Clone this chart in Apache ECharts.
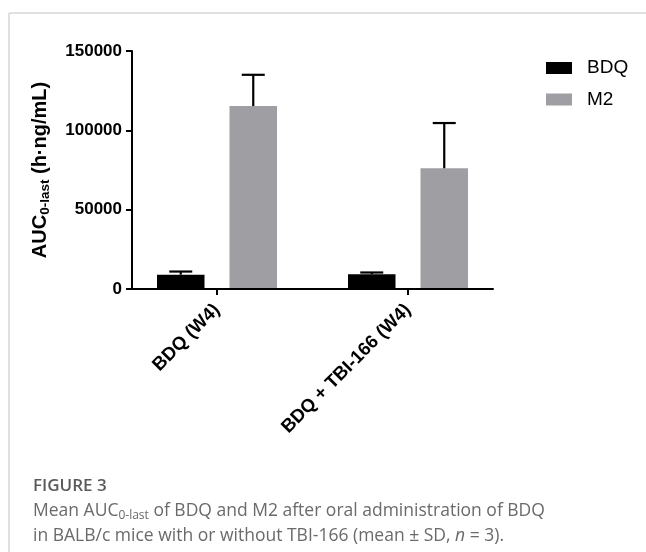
<!DOCTYPE html>
<html>
<head>
<meta charset="utf-8">
<script src="https://cdn.jsdelivr.net/npm/echarts@6/dist/echarts.min.js"></script>
<style>
  html, body { margin: 0; padding: 0; background: #fff; }
  #chart { width: 646px; height: 552px; }
</style>
</head>
<body>
<div id="chart"></div>
<script>
// ---- data ----
const categories = ['BDQ (W4)', 'BDQ + TBI-166 (W4)'];
const seriesNames = ['BDQ', 'M2'];
const bdqMean = [9000, 9300];
const bdqSD = [2000, 1100];
const m2Mean = [115300, 76100];
const m2SD = [19700, 28500];
const yMin = 0, yMax = 150000, yInterval = 50000;

// ---- styles ----
const FONT = 'Liberation Sans, Arial, sans-serif';
const CAP_FONT = 'Open Sans, Lato, sans-serif';
const BAR_W = 47.5;
const BAR_GAP_PX = 25;
const CAP_W = 23;
const colors = ['#000000', '#9f9ea3'];

function errRender(sign) {
  return function (params, api) {
    const c = api.value(0), m = api.value(1), sd = api.value(2);
    const p0 = api.coord([c, m]);
    const p1 = api.coord([c, m + sd]);
    const x = p0[0] + sign * (BAR_W + BAR_GAP_PX) / 2;
    const st = { stroke: '#000', lineWidth: 2.2 };
    return {
      type: 'group',
      children: [
        { type: 'line', shape: { x1: x, y1: p0[1], x2: x, y2: p1[1] }, style: st },
        { type: 'line', shape: { x1: x - CAP_W / 2, y1: p1[1], x2: x + CAP_W / 2, y2: p1[1] }, style: st }
      ]
    };
  };
}

const chart = echarts.init(document.getElementById('chart'), null, { renderer: 'canvas' });
chart.setOption({
  animation: false,
  backgroundColor: '#fff',
  graphic: [
    { type: 'line', shape: { x1: 9, y1: 13, x2: 646, y2: 13 }, style: { stroke: '#d6d6d6', lineWidth: 1.5 } },
    { type: 'line', shape: { x1: 9, y1: 13, x2: 9, y2: 552 }, style: { stroke: '#d6d6d6', lineWidth: 1.5 } }
  ],
  title: [
    {
      text: 'FIGURE 3', left: 33, top: 478, padding: 0,
      textStyle: { fontFamily: CAP_FONT, fontSize: 17, fontWeight: 600, color: '#5a5a5a' }
    },
    {
      text: 'Mean AUC{sub|0-last} of BDQ and M2 after oral administration of BDQ\nin BALB/c mice with or without TBI-166 (mean ± SD, {i|n} = 3).',
      left: 33, top: 499, padding: 0,
      textStyle: {
        fontFamily: CAP_FONT, fontSize: 17.5, fontWeight: 'normal', color: '#6a6a6a', lineHeight: 25,
        rich: {
          sub: { fontFamily: CAP_FONT, fontSize: 12, color: '#6a6a6a', padding: [9, 0, 0, 0] },
          i: { fontFamily: CAP_FONT, fontSize: 17.5, fontStyle: 'italic', color: '#6a6a6a' }
        }
      }
    }
  ],
  legend: {
    data: seriesNames,
    orient: 'vertical',
    left: 546, top: 58, padding: 0,
    itemWidth: 26, itemHeight: 12, itemGap: 11.5,
    icon: 'rect',
    textStyle: { fontFamily: FONT, fontSize: 19, color: '#000', lineHeight: 20, padding: [0, 0, 0, 10] }
  },
  grid: [
    { left: 132, top: 51, width: 361, height: 238 },
    { left: 121.5, top: 51, width: 382, height: 238 }
  ],
  xAxis: [
    {
      gridIndex: 0, type: 'category', data: categories, z: 5,
      axisLine: { show: true, lineStyle: { color: '#000', width: 2 } },
      axisTick: { show: false }, axisLabel: { show: false }, splitLine: { show: false }
    },
    {
      gridIndex: 1, type: 'category', data: categories,
      axisLine: { show: false },
      axisTick: { show: true, alignWithLabel: true, length: 6, lineStyle: { color: '#000', width: 2 } },
      axisLabel: { rotate: 45, margin: 18, fontFamily: FONT, fontSize: 18.5, fontWeight: 'bold', color: '#000' },
      splitLine: { show: false }
    }
  ],
  yAxis: [
    {
      gridIndex: 0, type: 'value', min: yMin, max: yMax, interval: yInterval, z: 5,
      axisLine: { show: true, lineStyle: { color: '#000', width: 2 } },
      axisTick: { show: true, length: 6, lineStyle: { color: '#000', width: 2 } },
      axisLabel: { margin: 10, fontFamily: FONT, fontSize: 17, fontWeight: 'bold', color: '#000',
        formatter: v => String(v) },
      splitLine: { show: false },
      name: 'AUC{sub|0-last} (h·ng/mL)',
      nameLocation: 'middle', nameRotate: 90, nameGap: 80,
      nameTextStyle: {
        fontFamily: FONT, fontSize: 20, fontWeight: 'bold', color: '#000',
        rich: {
          sub: { fontFamily: FONT, fontSize: 13.5, fontWeight: 'bold', color: '#000', padding: [10, 0, 0, 0] }
        }
      }
    },
    {
      gridIndex: 1, type: 'value', min: yMin, max: yMax, interval: yInterval, show: false,
      splitLine: { show: false }
    }
  ],
  series: [
    {
      name: seriesNames[0], type: 'bar', xAxisIndex: 1, yAxisIndex: 1,
      data: bdqMean, barWidth: BAR_W, barGap: (BAR_GAP_PX / BAR_W * 100) + '%',
      itemStyle: { color: colors[0] }
    },
    {
      name: seriesNames[1], type: 'bar', xAxisIndex: 1, yAxisIndex: 1,
      data: m2Mean, barWidth: BAR_W, barGap: (BAR_GAP_PX / BAR_W * 100) + '%',
      itemStyle: { color: colors[1] }
    },
    {
      name: 'BDQ SD', type: 'custom', xAxisIndex: 1, yAxisIndex: 1, z: 3,
      renderItem: errRender(-1),
      encode: { x: 0, y: 1 },
      data: categories.map((_, i) => [i, bdqMean[i], bdqSD[i]])
    },
    {
      name: 'M2 SD', type: 'custom', xAxisIndex: 1, yAxisIndex: 1, z: 3,
      renderItem: errRender(1),
      encode: { x: 0, y: 1 },
      data: categories.map((_, i) => [i, m2Mean[i], m2SD[i]])
    }
  ]
});
</script>
</body>
</html>
